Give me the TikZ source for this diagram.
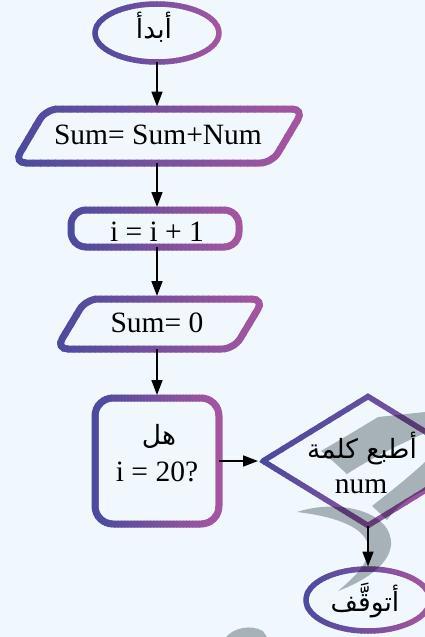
\documentclass[tikz,border=0pt]{standalone}
\usepackage{fontspec}
\setmainfont{Liberation Serif}
\newfontfamily\arabicfont[Script=Arabic]{DejaVu Sans}
\TeXXeTstate=1
\usetikzlibrary{shapes.geometric,arrows.meta}
\definecolor{bgc}{RGB}{240,248,254}
\definecolor{gA}{RGB}{74,75,158}
\definecolor{gB}{RGB}{166,86,160}
\definecolor{wm}{RGB}{178,182,185}
% #1 cx, #2 cy, #3 angle, #4 half range, #5 line width, #6 path
\newcommand\gradstroke[6]{%
  \foreach \k in {0,...,39}{%
    \pgfmathsetmacro\pa{-#4+2*#4*\k/40-0.5}%
    \pgfmathsetmacro\pb{-#4+2*#4*(\k+1)/40+0.5}%
    \pgfmathtruncatemacro\pc{round(100*\k/39)}%
    \begin{scope}
      \clip[rotate around={#3:(#1,#2)}] ({#1+(\pa)},{#2-700}) rectangle ({#1+(\pb)},{#2+700});
      \draw[line width=#5pt, draw=gB!\pc!gA] #6;
    \end{scope}}}
\tikzset{
  box/.style={draw=none, rectangle, inner sep=0pt, outer sep=0pt},
  lat/.style={font=\fontsize{29.5}{33}\selectfont, text=black, inner sep=0pt},
  ar/.style={font=\arabicfont\fontsize{26.5}{30}\selectfont, text=black, inner sep=0pt},
  arr/.style={draw=black, line width=1.7pt, -{Triangle[length=15pt,width=11pt]}},
}
\begin{document}
\begin{tikzpicture}[x=1pt,y=1pt]
\useasboundingbox (0,0) rectangle (425,-637);
\fill[bgc] (0,0) rectangle (425,-637);

% geometry nodes
\node[box, minimum width=124pt, minimum height=58pt] (start) at (157,-33) {};
\node[box, minimum width=200pt, minimum height=54pt] (p1) at (157,-136) {};
\node[box, minimum width=168pt, minimum height=37pt] (r1) at (155,-228.5) {};
\node[box, minimum width=150pt, minimum height=50pt] (p2) at (157,-324) {};
\node[box, minimum width=124pt, minimum height=126pt] (d) at (157,-461) {};
\node[box, minimum width=210pt, minimum height=129pt] (dm) at (368,-461) {};
\node[box, minimum width=124pt, minimum height=62pt] (se) at (368,-600) {};

% gradient outlines
\gradstroke{157}{-33}{0}{66}{5.5}{(start.center) ellipse [x radius=62, y radius=29]}
\gradstroke{159}{-136}{0}{148}{7}{[rounded corners=12pt] (46,-109) -- (304,-109) -- (272,-163) -- (14,-163) -- cycle}
\gradstroke{155}{-228.5}{0}{87}{7}{[rounded corners=15pt] (r1.south west) rectangle (r1.north east)}
\gradstroke{160}{-324}{0}{108}{7}{[rounded corners=12pt] (86,-299) -- (264,-299) -- (234,-349) -- (56,-349) -- cycle}
\gradstroke{157}{-461}{0}{65}{7}{[rounded corners=18pt] (d.south west) rectangle (d.north east)}
\gradstroke{368}{-461}{-35}{88}{5.5}{(dm.west) -- (dm.north) -- (dm.east) -- (dm.south) -- cycle}
\gradstroke{368}{-600}{0}{66}{5.5}{(se.center) ellipse [x radius=62, y radius=31]}

% watermark strokes
\begin{scope}[blend mode=multiply]
\fill[wm] (378,-417) -- (425,-412) -- (425,-433)
  .. controls (398,-445) and (368,-460) .. (347,-474)
  .. controls (338,-466) and (329,-457) .. (321,-451)
  .. controls (340,-440) and (360,-428) .. (378,-417) -- cycle;
\fill[wm] (425,-462) -- (425,-490)
  .. controls (408,-498) and (395,-508) .. (387,-520)
  -- (372,-506)
  .. controls (390,-492) and (410,-476) .. (425,-462) -- cycle;
\fill[wm] (297,-512) .. controls (340,-498) and (393,-512) .. (391,-545)
  .. controls (389,-566) and (362,-582) .. (338,-591)
  .. controls (356,-576) and (371,-561) .. (368,-545)
  .. controls (364,-526) and (332,-516) .. (297,-512) -- cycle;
\fill[wm] (226,-637) .. controls (234,-628) and (250,-624) .. (263,-631) -- (267,-637) -- cycle;
\end{scope}

% texts
\node[ar] (tstart) at (154,-27) {\beginR أبدأ\endR};
\node[lat] (t1) at (158,-135) {Sum= Sum+Num};
\node[lat] (t2) at (157,-232) {i = i + 1};
\node[lat] (t3) at (157,-323) {Sum= 0};
\node[ar] (t4a) at (159,-436) {\beginR هل\endR};
\node[lat] (t4b) at (157,-472) {i = 20?};
\node[ar] (t5a) at (362,-448) {\beginR أطبع كلمة\endR};
\node[lat, anchor=base] (t5b) at (361,-493) {num};
\node[ar] (t6) at (365,-600) {\beginR أتوقَّف\endR};

% connectors
\draw[arr, shorten >=2.5pt] (start.south) -- (start.south |- p1.north);
\draw[arr, shorten >=3pt] (p1.south) -- (p1.south |- r1.north);
\draw[arr, shorten >=3pt] (p1.south |- r1.south) -- (p1.south |- p2.north);
\draw[arr, shorten >=3pt] (p2.south) -- (d.north);
\draw[arr, shorten >=5pt] (d.east) -- (dm.west);
\draw[arr, shorten >=2.5pt] (dm.south) -- (se.north);
\end{tikzpicture}
\end{document}
